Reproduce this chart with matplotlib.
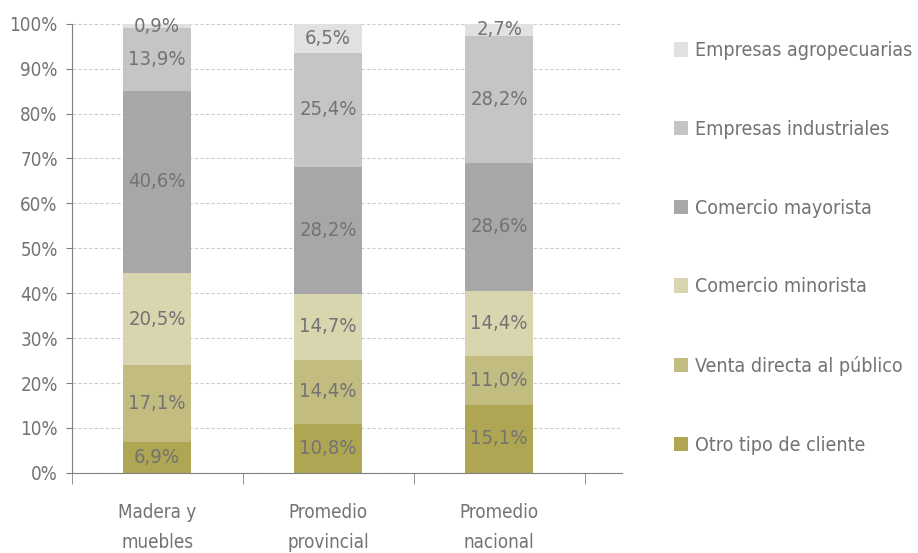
import matplotlib.pyplot as plt
from matplotlib.patches import Patch

plt.rcParams['font.family'] = ['DejaVu Sans']
plt.rcParams['font.stretch'] = 'condensed'

categorias = ['Madera y\nmuebles', 'Promedio\nprovincial', 'Promedio\nnacional']
series = ['Otro tipo de cliente', 'Venta directa al público', 'Comercio minorista',
          'Comercio mayorista', 'Empresas industriales', 'Empresas agropecuarias']
otro = [6.9, 10.8, 15.1]
venta = [17.1, 14.4, 11.0]
minorista = [20.5, 14.7, 14.4]
mayorista = [40.6, 28.2, 28.6]
industriales = [13.9, 25.4, 28.2]
agro = [0.9, 6.5, 2.7]
valores = [otro, venta, minorista, mayorista, industriales, agro]
colores = ['#aea653', '#c3bc81', '#d8d5af', '#a7a7a7', '#c5c5c5', '#e1e1e1']
gris = '#737373'

fig = plt.figure(figsize=(9.18, 5.53), dpi=100)
ax = fig.add_axes([0.078, 0.145, 0.6, 0.812])

x = range(len(categorias))
base = [0, 0, 0]
for vals, col in zip(valores, colores):
    ax.bar(x, vals, bottom=base, width=0.4, color=col, zorder=2)
    for i, v in enumerate(vals):
        ax.text(i, base[i] + v / 2, f'{v:.1f}%'.replace('.', ','), ha='center', va='center',
                fontsize=14.5, color=gris, zorder=3)
    base = [b + v for b, v in zip(base, vals)]

ax.set_ylim(0, 100)
ax.set_xlim(-0.5, 2.72)
ax.set_yticks(range(0, 101, 10))
ax.set_yticklabels([f'{t}%' for t in range(0, 101, 10)], fontsize=13.5, color=gris)
ax.set_xticks(list(x))
ax.set_xticklabels(categorias, fontsize=13.5, color=gris, linespacing=1.7)
ax.tick_params(axis='x', length=0, pad=22)
ax.set_xticks([-0.5, 0.5, 1.5, 2.5], minor=True)
ax.tick_params(axis='x', which='minor', length=8, color='#808080', direction='out')
ax.tick_params(axis='y', length=4, color='#808080', pad=6)
ax.yaxis.grid(True, linestyle=(0, (3, 2)), color='#cccccc', linewidth=0.8, zorder=0)
for s in ['top', 'right']:
    ax.spines[s].set_visible(False)
ax.spines['left'].set_color('#808080')
ax.spines['bottom'].set_color('#808080')

handles = [Patch(facecolor=c, label=s) for s, c in zip(series, colores)][::-1]
fig.legend(handles=handles, loc='upper left', bbox_to_anchor=(0.715, 0.957), frameon=False,
           fontsize=14, labelcolor=gris, labelspacing=3.07, handlelength=0.75, handleheight=0.75,
           handletextpad=0.35)

fig.savefig('out.png', dpi=100)
